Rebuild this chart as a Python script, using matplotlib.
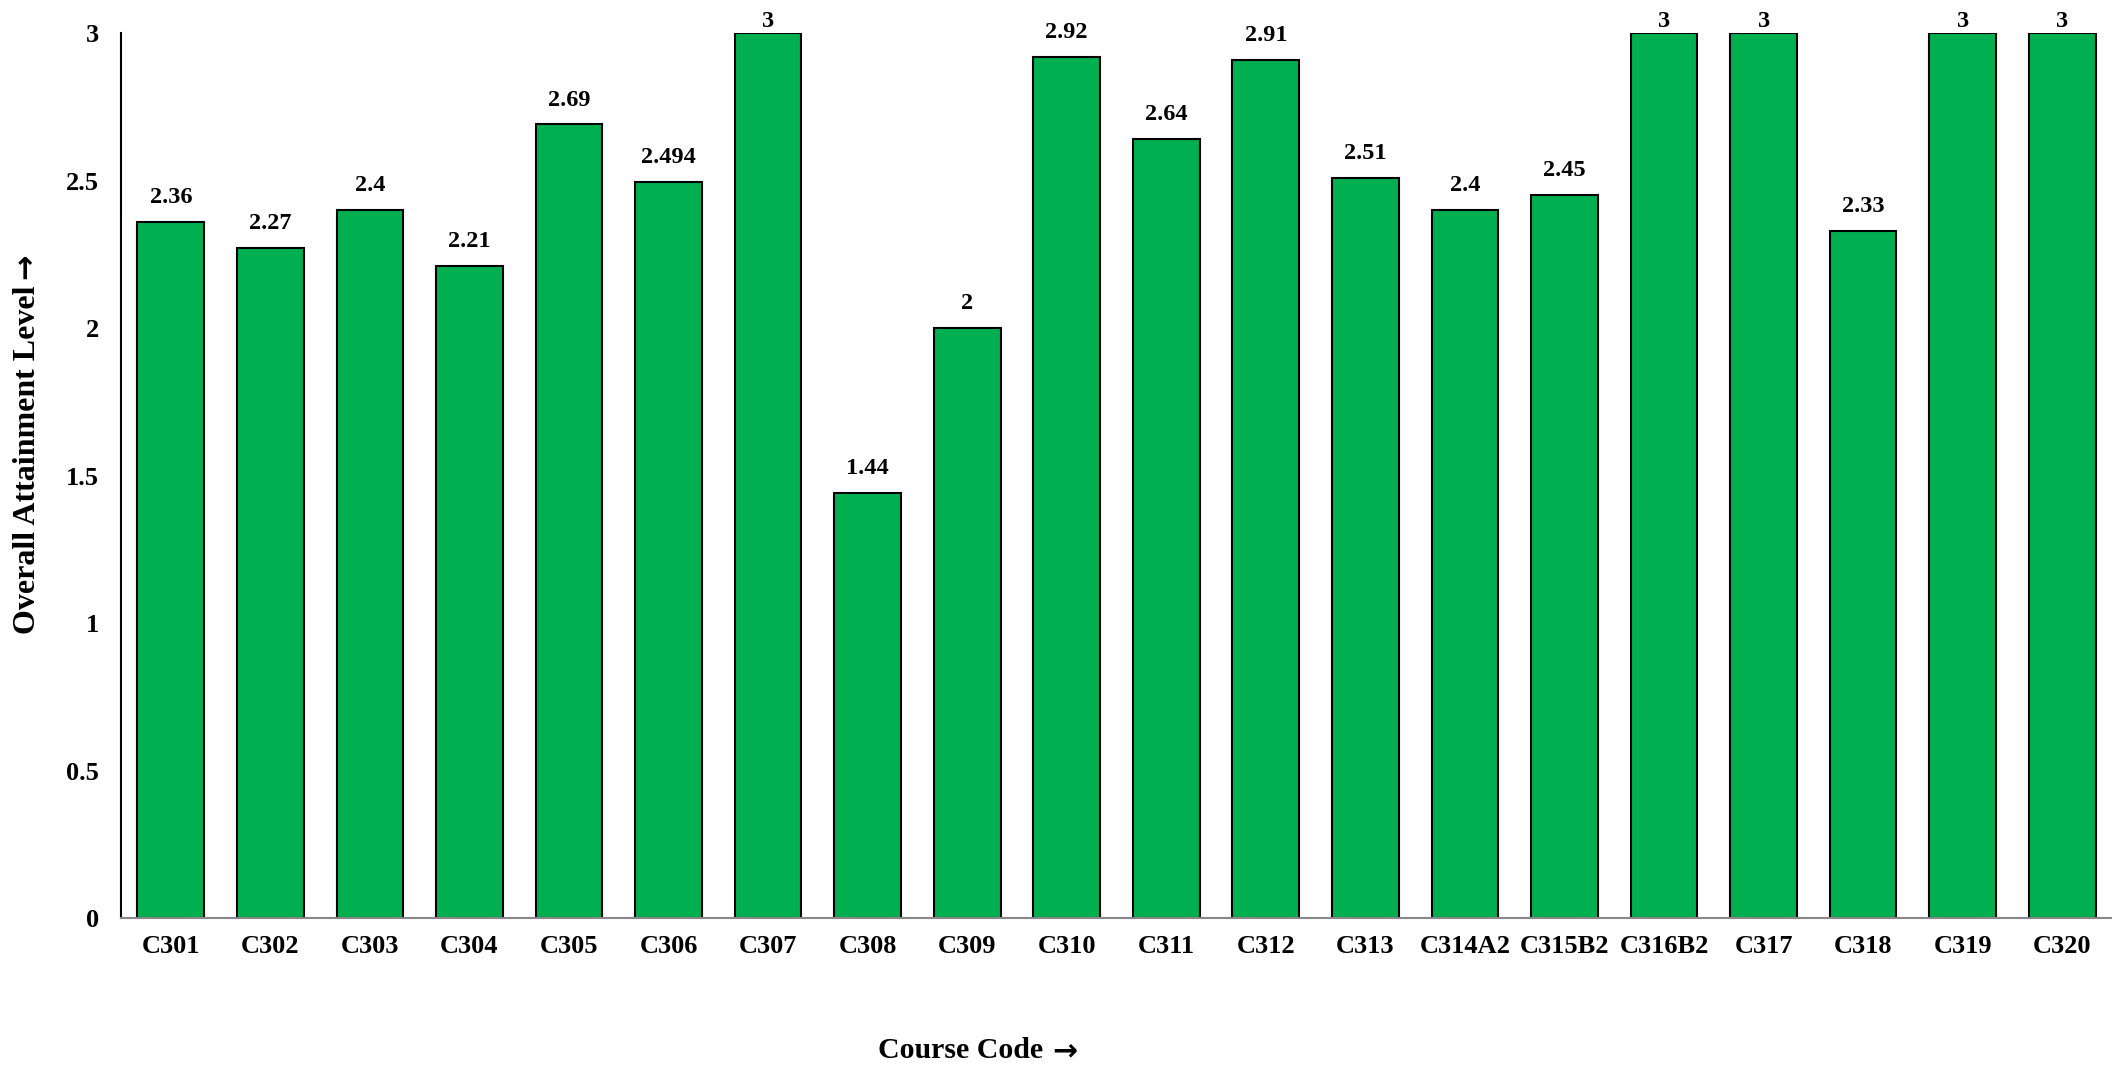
import matplotlib
matplotlib.use('Agg')
import matplotlib.pyplot as plt

courses = ['C301', 'C302', 'C303', 'C304', 'C305', 'C306', 'C307', 'C308', 'C309', 'C310',
           'C311', 'C312', 'C313', 'C314A2', 'C315B2', 'C316B2', 'C317', 'C318', 'C319', 'C320']
attainment = [2.36, 2.27, 2.4, 2.21, 2.69, 2.494, 3, 1.44, 2, 2.92,
              2.64, 2.91, 2.51, 2.4, 2.45, 3, 3, 2.33, 3, 3]
value_labels = ['2.36', '2.27', '2.4', '2.21', '2.69', '2.494', '3', '1.44', '2', '2.92',
                '2.64', '2.91', '2.51', '2.4', '2.45', '3', '3', '2.33', '3', '3']

font = ['Liberation Serif', 'DejaVu Serif']
plt.rcParams['font.family'] = font
plt.rcParams['font.weight'] = 'bold'

fig = plt.figure(figsize=(21.12, 10.65), dpi=100)
ax = fig.add_axes([0.0573, 0.138, 0.9427, 0.831])

xs = range(len(courses))
ax.bar(xs, attainment, width=0.67, color='#00B050', edgecolor='black', linewidth=1.5)

ymax = 3
for x, v, lab in zip(xs, attainment, value_labels):
    off = 1 if v >= ymax else 10
    ax.annotate(lab, (x, v), xytext=(0, off), textcoords='offset points',
                ha='center', va='bottom', fontsize=17.5, fontweight='bold',
                annotation_clip=False)

ax.set_xlim(-0.5, len(courses) - 0.5)
ax.set_ylim(0, ymax)
ax.set_yticks([0, 0.5, 1, 1.5, 2, 2.5, 3])
ax.set_yticklabels(['0', '0.5', '1', '1.5', '2', '2.5', '3'])
ax.set_xticks(list(xs))
ax.set_xticklabels(courses)
ax.tick_params(axis='both', length=0, labelsize=19)
ax.tick_params(axis='x', pad=12)
ax.tick_params(axis='y', pad=16)

for s in ['top', 'right']:
    ax.spines[s].set_visible(False)
ax.spines['left'].set_color('black')
ax.spines['left'].set_linewidth(1.5)
ax.spines['bottom'].set_color('#888888')
ax.spines['bottom'].set_linewidth(1.5)

# arrow glyph from DejaVu Sans, it is bigger than the serif one
xl = fig.text(0.455, 0.001, 'Course Code', ha='center', va='bottom',
              fontsize=21.5, fontweight='bold')
ax.annotate('\u2192', xy=(1, 0), xycoords=xl, xytext=(6, -1), textcoords='offset points',
            ha='left', va='bottom', fontsize=21.5, fontweight='bold', family='DejaVu Sans')
yl = fig.text(0.013, 0.568, 'Overall Attainment Level', ha='center', va='center',
              rotation=90, fontsize=23, fontweight='bold')
ax.annotate('\u2192', xy=(0.5, 1), xycoords=yl, xytext=(-1, 5), textcoords='offset points',
            ha='center', va='bottom', rotation=90, fontsize=22, fontweight='bold',
            family='DejaVu Sans')

fig.savefig('out.png', dpi=100)
